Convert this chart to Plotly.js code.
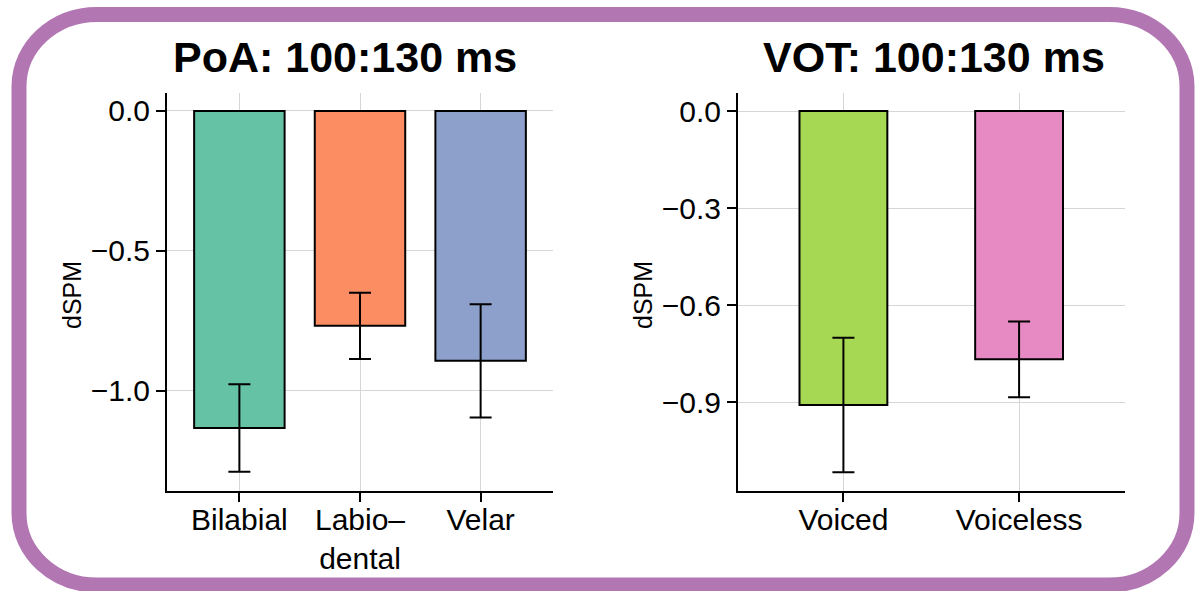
<!DOCTYPE html>
<html>
<head>
<meta charset="utf-8">
<script src="https://cdn.plot.ly/plotly-3.0.1.min.js"></script>
<style>html,body{margin:0;padding:0;background:#fff;}#chart{width:1195px;height:591px;}</style>
</head>
<body>
<div id="chart"></div>
<script>
// PoA panel
const poaCategories = ["Bilabial", "Labio–<br>dental", "Velar"];
const poaValues = [-1.133, -0.768, -0.893];
const poaErrors = [0.156, 0.118, 0.202];
const poaColors = ["#66c2a5", "#fc8d62", "#8da0cb"];
// VOT panel
const votCategories = ["Voiced", "Voiceless"];
const votValues = [-0.908, -0.767];
const votErrors = [0.208, 0.117];
const votColors = ["#a6d854", "#e78ac3"];
// Titles / ticks
const titles = ["PoA: 100:130 ms", "VOT: 100:130 ms"];
const poaTicks = [0, -0.5, -1.0];
const votTicks = [0, -0.3, -0.6, -0.9];

const FONT = "Liberation Sans, Arial, Helvetica, sans-serif";

const traces = [
  {
    type: "bar", x: poaCategories, y: poaValues, xaxis: "x", yaxis: "y",
    width: 0.75,
    marker: {color: poaColors, line: {color: "#000", width: 2}},
    error_y: {type: "data", array: poaErrors, visible: true, color: "#000", thickness: 2, width: 11},
    hoverinfo: "x+y"
  },
  {
    type: "bar", x: votCategories, y: votValues, xaxis: "x2", yaxis: "y2",
    width: 0.5,
    marker: {color: votColors, line: {color: "#000", width: 2}},
    error_y: {type: "data", array: votErrors, visible: true, color: "#000", thickness: 2, width: 11},
    hoverinfo: "x+y"
  }
];

const W = 1195, H = 591;
const axCommon = {
  showline: true, linecolor: "#000", linewidth: 2,
  showgrid: true, gridcolor: "#d6d6d6", gridwidth: 1,
  zeroline: false, ticks: "outside", ticklen: 9, tickwidth: 2, tickcolor: "#000",
  tickfont: {family: FONT, size: 30, color: "#000"}, fixedrange: true
};
const xTickFont = {family: FONT, size: 30, color: "#000"};

// border path (rounded rectangle, paper coords)
const bx0 = 19 / W, bx1 = 1187 / W, by0 = 1 - 585 / H, by1 = 1 - 14.5 / H;
const rx = 78 / W, ry = 72 / H, k = 0.5523;
const border = `M ${bx0 + rx} ${by1} L ${bx1 - rx} ${by1} ` +
  `C ${bx1 - rx + k * rx} ${by1} ${bx1} ${by1 - ry + k * ry} ${bx1} ${by1 - ry} ` +
  `L ${bx1} ${by0 + ry} ` +
  `C ${bx1} ${by0 + ry - k * ry} ${bx1 - rx + k * rx} ${by0} ${bx1 - rx} ${by0} ` +
  `L ${bx0 + rx} ${by0} ` +
  `C ${bx0 + rx - k * rx} ${by0} ${bx0} ${by0 + ry - k * ry} ${bx0} ${by0 + ry} ` +
  `L ${bx0} ${by1 - ry} ` +
  `C ${bx0} ${by1 - ry + k * ry} ${bx0 + rx - k * rx} ${by1} ${bx0 + rx} ${by1} Z`;

const layout = {
  width: W, height: H,
  margin: {l: 0, r: 0, t: 0, b: 0},
  paper_bgcolor: "#fff", plot_bgcolor: "#fff",
  showlegend: false,
  font: {family: FONT, color: "#000"},
  xaxis: Object.assign({}, axCommon, {domain: [167 / W, 553 / W], range: [-0.6, 2.6], type: "category",
    tickfont: xTickFont, ticklabelstandoff: -8}),
  yaxis: Object.assign({}, axCommon, {domain: [1 - 490.7 / H, 1 - 93.3 / H], range: [-1.357, 0.063],
    tickvals: poaTicks, tickformat: ".1f"}),
  xaxis2: Object.assign({}, axCommon, {domain: [738 / W, 1124.5 / W], range: [-0.6, 1.6], type: "category", anchor: "y2",
    tickfont: xTickFont, ticklabelstandoff: -8}),
  yaxis2: Object.assign({}, axCommon, {domain: [1 - 490.7 / H, 1 - 93.3 / H], range: [-1.173, 0.055],
    tickvals: votTicks, tickformat: ".1f", anchor: "x2"}),
  annotations: [
    {text: "<b>" + titles[0] + "</b>", xref: "paper", yref: "paper", x: 345 / W, y: 1 - 57 / H,
     xanchor: "center", yanchor: "middle", showarrow: false, font: {family: FONT, size: 43, color: "#000"}},
    {text: "<b>" + titles[1] + "</b>", xref: "paper", yref: "paper", x: 934 / W, y: 1 - 57 / H,
     xanchor: "center", yanchor: "middle", showarrow: false, font: {family: FONT, size: 43, color: "#000"}},
    {text: "dSPM", xref: "paper", yref: "paper", x: 72 / W, y: 1 - 295 / H, textangle: -90,
     xanchor: "center", yanchor: "middle", showarrow: false, font: {family: FONT, size: 25, color: "#000"}},
    {text: "dSPM", xref: "paper", yref: "paper", x: 643 / W, y: 1 - 295 / H, textangle: -90,
     xanchor: "center", yanchor: "middle", showarrow: false, font: {family: FONT, size: 25, color: "#000"}}
  ],
  shapes: [
    {type: "path", xref: "paper", yref: "paper", path: border,
     line: {color: "#b276b2", width: 15}, fillcolor: "rgba(0,0,0,0)", layer: "above"}
  ]
};

Plotly.newPlot("chart", traces, layout, {displayModeBar: false, staticPlot: true});
</script>
</body>
</html>
